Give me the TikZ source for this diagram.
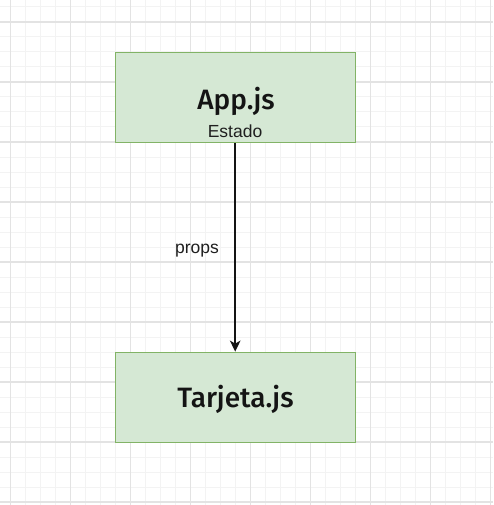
\documentclass[tikz,border=0pt]{standalone}
\usepackage{fontspec}
\setmainfont{Liberation Sans}
\newfontfamily\titlefont{Fira Sans Medium}
\usetikzlibrary{arrows.meta}
\definecolor{boxfill}{HTML}{D5E8D4}
\definecolor{boxline}{HTML}{82B366}
\definecolor{gridminor}{HTML}{F3F3F3}
\definecolor{gridmajor}{HTML}{E3E3E3}
\tikzset{
  compbox/.style={draw=boxline, fill=boxfill, line width=1.35pt, minimum width=240pt, minimum height=90pt, inner sep=0pt},
  titletext/.style={font=\titlefont\fontsize{28}{32}\selectfont, anchor=base, inner sep=0pt, text=black!92},
  smalltext/.style={font=\fontsize{17.5}{20}\selectfont, anchor=base, inner sep=0pt, text=black!88},
  link/.style={line width=1.8pt, draw=black!92, -{Stealth[length=11pt,width=10.5pt,inset=3pt]}}
}
\begin{document}
\begin{tikzpicture}[x=1pt,y=-1pt]
\fill[white] (0,0) rectangle (493,505);
\useasboundingbox (0,0) rectangle (493,505);
% minor grid
\foreach \gx in {0,...,32} {\draw[gridminor, line width=1pt] (10.7+15*\gx,0) -- (10.7+15*\gx,505);}
\foreach \gy in {0,...,33} {\draw[gridminor, line width=1pt] (0,7+15*\gy) -- (493,7+15*\gy);}
% major grid
\foreach \gx in {0,...,8} {\draw[gridmajor, line width=1.1pt] (10.7+60*\gx,0) -- (10.7+60*\gx,505);}
\foreach \gy in {0,...,8} {\draw[gridmajor, line width=1.1pt] (0,22+60*\gy) -- (493,22+60*\gy);}
% boxes
\node[compbox] (app) at (235.2,97.3) {};
\node[compbox] (tarjeta) at (235.2,397.3) {};
\node[titletext] (apptitle) at (236,109.5) {App.js};
\node[smalltext] (estado) at (235,137.5) {Estado};
\node[titletext] (tarjetatitle) at (235.5,407.5) {Tarjeta.js};
% connector
\draw[link] (app.south) -- (tarjeta.north);
\node[smalltext] (props) at (197,253.5) {props};
\end{tikzpicture}
\end{document}
